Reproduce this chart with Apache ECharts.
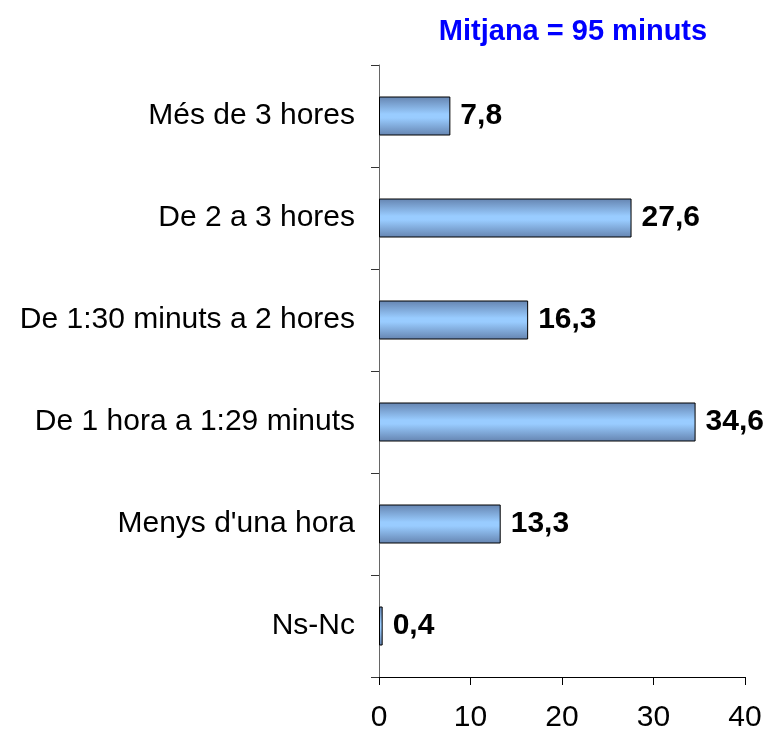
<!DOCTYPE html>
<html>
<head>
<meta charset="utf-8">
<script src="https://cdn.jsdelivr.net/npm/echarts@6/dist/echarts.min.js"></script>
<style>
  html, body { margin: 0; padding: 0; background: #fff; }
  #chart { width: 767px; height: 735px; }
</style>
</head>
<body>
<div id="chart"></div>
<script>
// categories bottom to top, as echarts draws category y axis
const categories = ['Ns-Nc', "Menys d'una hora", 'De 1 hora a 1:29 minuts', 'De 1:30 minuts a 2 hores', 'De 2 a 3 hores', 'Més de 3 hores'];
const values = [0.4, 13.3, 34.6, 16.3, 27.6, 7.8];
const xTicks = [0, 10, 20, 30, 40];
const titleText = 'Mitjana = 95 minuts';

const myChart = echarts.init(document.getElementById('chart'));
const option = {
  animation: false,
  title: {
    text: titleText,
    left: 568,
    top: 12,
    textAlign: 'center',
    textStyle: {
      color: '#0000ff',
      fontFamily: 'Liberation Sans',
      fontWeight: 'bold',
      fontSize: 29
    }
  },
  grid: {
    left: 379,
    right: 22,
    top: 65,
    bottom: 58,
    containLabel: false
  },
  xAxis: {
    type: 'value',
    min: xTicks[0],
    max: xTicks[xTicks.length - 1],
    interval: 10,
    splitLine: { show: false },
    axisLine: { show: true, lineStyle: { color: '#000', width: 1 } },
    axisTick: { show: true, length: 8, lineStyle: { color: '#000' } },
    axisLabel: {
      margin: 26,
      color: '#000',
      fontFamily: 'Liberation Sans',
      fontSize: 30
    }
  },
  yAxis: {
    type: 'category',
    data: categories,
    axisLine: { show: true, lineStyle: { color: '#666', width: 1 } },
    axisTick: { show: true, length: 8, lineStyle: { color: '#333' } },
    axisLabel: {
      margin: 24,
      color: '#000',
      fontFamily: 'Liberation Sans',
      fontSize: 30
    }
  },
  series: [{
    type: 'bar',
    data: values,
    barWidth: 39,
    itemStyle: {
      color: new echarts.graphic.LinearGradient(0, 0, 0, 1, [
        { offset: 0, color: '#6584b0' },
        { offset: 0.45, color: '#99ccff' },
        { offset: 0.55, color: '#99ccff' },
        { offset: 1, color: '#6584b0' }
      ]),
      borderColor: '#000',
      borderWidth: 1
    },
    label: {
      show: true,
      position: 'right',
      distance: 10,
      color: '#000',
      fontFamily: 'Liberation Sans',
      fontWeight: 'bold',
      fontSize: 30,
      formatter: (p) => String(p.value).replace('.', ',')
    }
  }]
};
myChart.setOption(option, true);
</script>
</body>
</html>
